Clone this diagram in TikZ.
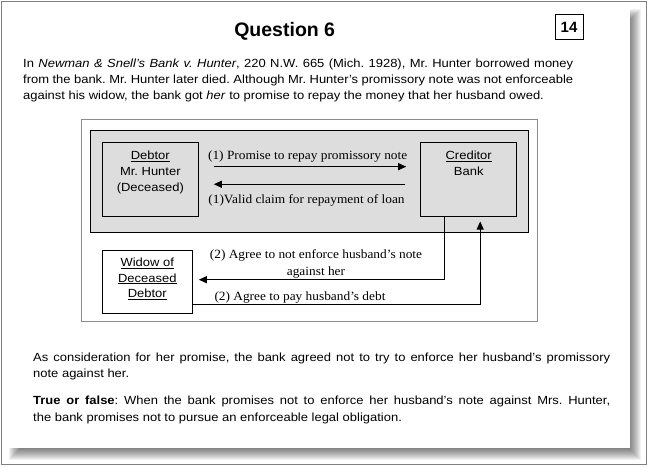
\documentclass[tikz,border=0pt]{standalone}
\usepackage{fontspec}
\setmainfont[FakeStretch=1.1]{Liberation Sans}
\newfontfamily\titlefont{Liberation Sans}
\newfontfamily\diagserif[FakeStretch=1.06]{Liberation Serif}
\usetikzlibrary{arrows.meta}
\definecolor{boxgray}{RGB}{221,221,221}
\definecolor{framegray}{RGB}{140,140,140}
\definecolor{edgegray}{RGB}{128,128,128}
\frenchspacing
\hyphenpenalty=10000
\exhyphenpenalty=10000
\begin{document}
\begin{tikzpicture}[x=1pt,y=-1pt,
  body/.style={inner sep=0pt, anchor=north west, align=justify, font=\fontsize{11.8}{16}\selectfont},
  boxtxt/.style={inner sep=0pt, anchor=north, align=center, font=\fontsize{11.8}{15.7}\selectfont},
  conlbl/.style={inner sep=0pt, anchor=base, align=center, font=\diagserif\fontsize{12.6}{16.7}\selectfont},
  partybox/.style={draw=black, line width=1pt, inner sep=0pt},
  arr/.style={line width=1pt, -{Triangle[length=8pt,width=7pt]}}
]
\useasboundingbox (0,0) rectangle (648,466);
\fill[white] (0,0) rectangle (648,466);
% page shadow
\foreach \i in {1,...,12} \fill[black, opacity=0.05] (8+\i,8+\i) rectangle (642-\i,461-\i);
\fill[white] (0,0) rectangle (630,448);
\draw[edgegray, line width=1pt] (1.5,1.5) rectangle (646.5,464.5);

% title and number
\node[anchor=base, inner sep=0pt, font=\titlefont\bfseries\fontsize{19.5}{23}\selectfont] (title) at (284.7,36.7) {Question 6};
\node[draw, line width=1pt, minimum width=28pt, minimum height=25pt, inner sep=0pt, font=\titlefont\bfseries\fontsize{15}{18}\selectfont] (num) at (569,27) {14};

% paragraph 1
\node[body, text width=550pt] (p1) at (23,57.3) {\noindent\rule{0pt}{10pt}In \textit{Newman \& Snell's Bank v. Hunter}, 220 N.W. 665 (Mich. 1928), Mr. Hunter borrowed money\linebreak from the bank. Mr. Hunter later died. Although Mr. Hunter's promissory note was not enforceable\linebreak against his widow, the bank got \textit{her} to promise to repay the money that her husband owed.};

% diagram
\node[draw=framegray, line width=1pt, minimum width=456.7pt, minimum height=202pt, inner sep=0pt] (frame) at (309.35,220) {};
\node[partybox, fill=boxgray, minimum width=438.3pt, minimum height=102.3pt] (group) at (309.15,181.15) {};
\node[partybox, fill=boxgray, minimum width=96pt, minimum height=73.7pt] (debtor) at (150.3,179.15) {};
\node[partybox, fill=boxgray, minimum width=96pt, minimum height=73.7pt] (creditor) at (468.7,179.15) {};
\node[partybox, fill=white, minimum width=90pt, minimum height=62.6pt] (widow) at (147.3,282) {};

\node[boxtxt] (debtortxt) at ([yshift=-7.7pt]debtor.north) {\rule{0pt}{10pt}\underline{Debtor}\\Mr. Hunter\\(Deceased)};
\node[boxtxt] (creditortxt) at ([yshift=-7.7pt]creditor.north) {\rule{0pt}{10pt}\underline{Creditor}\\Bank};
\node[boxtxt] (widowtxt) at ([yshift=-6pt]widow.north) {\rule{0pt}{10pt}\underline{Widow of}\\\underline{Deceased}\\\underline{Debtor}};

\draw[arr] ([xshift=15pt,yshift=12.5pt]debtor.east) -- ([xshift=-14pt,yshift=12.5pt]creditor.west);
\draw[arr] ([xshift=-15pt,yshift=-5.1pt]creditor.west) -- ([xshift=15pt,yshift=-5.1pt]debtor.east);
\draw[arr] ([xshift=24pt]creditor.south west) |- ([xshift=6pt,yshift=2.3pt]widow.east);
\draw[arr] ([yshift=-22.3pt]widow.east) -| ([xshift=60pt,yshift=-5pt]creditor.south west);

\node[conlbl] (l1) at (307.7,159) {(1) Promise to repay promissory note};
\node[conlbl] (l2) at (306.5,203.3) {(1)Valid claim for repayment of loan};
\node[conlbl, anchor=north] (l3) at (316,248.3) {\rule{0pt}{10pt}(2) Agree to not enforce husband’s note\\against her};
\node[conlbl] (l4) at (300,300) {(2) Agree to pay husband’s debt};

% paragraphs 2 and 3
\node[body, text width=577pt] (p2) at (33,351.7) {\noindent\rule{0pt}{10pt}As consideration for her promise, the bank agreed not to try to enforce her husband's promissory\linebreak note against her.};
\node[body, text width=577pt, font=\fontsize{11.8}{16.7}\selectfont] (p3) at (33,394.3) {\noindent\rule{0pt}{10pt}\textbf{True or false}: When the bank promises not to enforce her husband's note against Mrs. Hunter,\linebreak the bank promises not to pursue an enforceable legal obligation.};
\end{tikzpicture}
\end{document}
